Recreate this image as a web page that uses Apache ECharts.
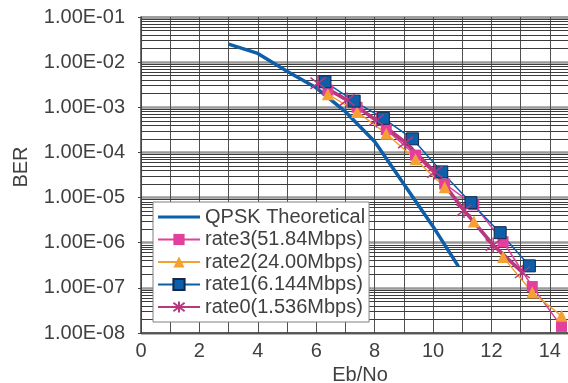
<!DOCTYPE html>
<html><head><meta charset="utf-8">
<script src="https://cdn.jsdelivr.net/npm/echarts@6/dist/echarts.min.js"></script>
<style>html,body{margin:0;padding:0;background:#fff}#c{width:568px;height:383px}</style>
</head><body><div id="c"></div>
<script>
// ---- data ----
const theoryX = [3, 4, 5, 6, 7, 8, 9, 10, 10.87];
const theoryBER = [2.5e-2, 1.56e-2, 6.3e-3, 2.7e-3, 8.0e-4, 1.75e-4, 2.0e-5, 2.3e-6, 3.0e-7];

const rate3X = [6.4, 7.4, 8.4, 9.4, 10.4, 11.4, 12.4, 13.4, 14.4];
const rate3BER = [2.4e-3, 1.0e-3, 3.2e-4, 8.7e-5, 2.0e-5, 6.9e-6, 1.05e-6, 1.07e-7, 1.4e-8];

const rate2X = [6.4, 7.4, 8.4, 9.4, 10.4, 11.4, 12.4, 13.4, 14.4];
const rate2BER = [1.95e-3, 7.9e-4, 2.6e-4, 7.1e-5, 1.7e-5, 2.95e-6, 4.8e-7, 7.9e-8, 2.4e-8];

const rate1X = [6.3, 7.3, 8.3, 9.3, 10.3, 11.3, 12.3, 13.3];
const rate1BER = [3.67e-3, 1.37e-3, 5.7e-4, 2.0e-4, 3.7e-5, 7.7e-6, 1.67e-6, 3.07e-7];

const rate0X = [6.06, 7.06, 8.06, 9.06, 10.06, 11.06, 12.06, 13.06];
const rate0BER = [3.4e-3, 1.45e-3, 5.2e-4, 1.66e-4, 3.7e-5, 5.2e-6, 8.9e-7, 2.2e-7];

const seriesNames = ['QPSK Theoretical', 'rate3(51.84Mbps)', 'rate2(24.00Mbps)', 'rate1(6.144Mbps)', 'rate0(1.536Mbps)'];
const xName = 'Eb/No';
const yName = 'BER';
const xMin = 0, xMax = 15;
const yMin = 1e-8, yMax = 1e-1;

// ---- chart ----
const zip = (xs, ys) => xs.map((x, i) => [x, ys[i]]);
const txt = '#404040';
const FONT = 'Liberation Sans, Arial, sans-serif';
const asterisk = 'path://M0,-10L0,10M-7.5,-7.5L7.5,7.5M-7.5,7.5L7.5,-7.5';
const lineIcon = 'path://M0,0L0.01,0L0.01,0.01Z M0,5.5L42,5.5L42,8.5L0,8.5Z M41.99,14L42,14L42,13.99Z';

// log-paper minor gridlines (2..9 in each decade), placed through the axis scales
const minorGrid = [];
for (let e = Math.round(Math.log10(yMin)); e < Math.round(Math.log10(yMax)); e++) {
  for (let k = 2; k <= 9; k++) {
    const v = k * Math.pow(10, e);
    minorGrid.push({coords: [[xMin, v], [xMax, v]]});
  }
}

const chart = echarts.init(document.getElementById('c'), null, {renderer: 'canvas'});
chart.setOption({
  animation: false,
  backgroundColor: '#fff',
  grid: {left: 141, top: 17, width: 438, height: 316, containLabel: false, outerBoundsMode: 'none'},
  xAxis: {
    type: 'value', min: xMin, max: xMax, interval: 2,
    name: xName, nameLocation: 'middle', nameGap: 32,
    nameTextStyle: {fontFamily: FONT, fontSize: 20, color: txt},
    axisLine: {show: true, onZero: false, lineStyle: {color: '#404040', width: 1.5}},
    axisTick: {show: false},
    axisLabel: {fontFamily: FONT, fontSize: 20, color: txt, margin: 8},
    splitLine: {show: true, lineStyle: {color: '#505050', width: 1}},
    minorTick: {show: false, splitNumber: 2},
    minorSplitLine: {show: true, lineStyle: {color: '#505050', width: 1}}
  },
  yAxis: {
    type: 'log', logBase: 10, min: yMin, max: yMax, interval: 1,
    name: yName, nameLocation: 'middle', nameGap: 110,
    nameTextStyle: {fontFamily: FONT, fontSize: 20, color: txt, padding: [0, 0, 0, 16]},
    axisLine: {show: true, lineStyle: {color: '#404040', width: 1.5}},
    axisTick: {show: true, length: 3, lineStyle: {color: '#404040'}},
    axisLabel: {
      fontFamily: FONT, fontSize: 20, color: txt, margin: 16, padding: [9, 0, 0, 0],
      formatter: v => {
        const e = Math.round(Math.log10(v));
        return '1.00E' + (e < 0 ? '-' : '+') + String(Math.abs(e)).padStart(2, '0');
      }
    },
    splitLine: {show: true, lineStyle: {color: '#9a9a9a', width: 2.5}},
    minorTick: {show: false},
    minorSplitLine: {show: false}
  },
  legend: {
    orient: 'vertical', left: 153, top: 202,
    backgroundColor: '#fff', borderColor: '#808080', borderWidth: 1,
    padding: [5, 4, 5, 4], itemGap: 2.5, itemWidth: 42, itemHeight: 14,
    textStyle: {fontFamily: FONT, fontSize: 20, color: txt, lineHeight: 20},
    data: [{name: seriesNames[0], icon: lineIcon}].concat(seriesNames.slice(1))
  },
  series: [
    {name: 'minor-grid', type: 'lines', coordinateSystem: 'cartesian2d', silent: true, z: 1,
     polyline: false, symbol: ['none', 'none'],
     lineStyle: {color: '#3c3c3c', width: 1, opacity: 1, curveness: 0}, data: minorGrid},
    {name: seriesNames[0], type: 'line', data: zip(theoryX, theoryBER), symbol: 'none', showSymbol: false,
     lineStyle: {color: '#0c5fa8', width: 3.5}, itemStyle: {color: '#0c5fa8'}},
    {name: seriesNames[1], type: 'line', data: zip(rate3X, rate3BER), symbol: 'rect', symbolSize: 11,
     lineStyle: {color: '#e2409c', width: 1.5}, itemStyle: {color: '#e2409c'}},
    {name: seriesNames[2], type: 'line', data: zip(rate2X, rate2BER), symbol: 'triangle', symbolSize: 12,
     lineStyle: {color: '#f5a033', width: 1.5}, itemStyle: {color: '#f5a033'}},
    {name: seriesNames[3], type: 'line', data: zip(rate1X, rate1BER), symbol: 'rect', symbolSize: 12,
     lineStyle: {color: '#0c5fa8', width: 1.5}, itemStyle: {color: '#0c5fa8', borderColor: '#16284a', borderWidth: 1}},
    {name: seriesNames[4], type: 'line', data: zip(rate0X, rate0BER), symbol: asterisk, symbolSize: 15,
     lineStyle: {color: '#b8377f', width: 3.5}, itemStyle: {color: '#b8377f', borderColor: '#b8377f', borderWidth: 1.5}}
  ]
});
</script>
</body></html>
